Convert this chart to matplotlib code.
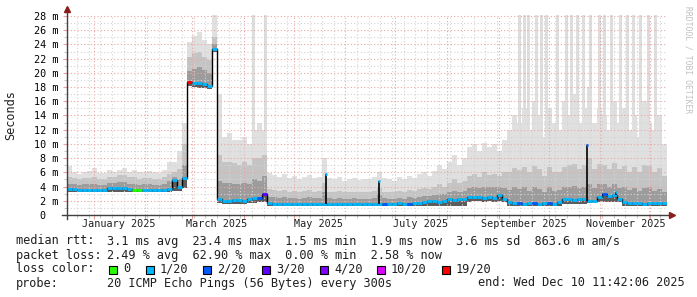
import datetime as dt
import matplotlib
matplotlib.use('Agg')
import matplotlib.pyplot as plt
import matplotlib.transforms as mtransforms
import numpy as np

# time axis: 120 samples of 3 days, starting Dec 16 2024
START = dt.datetime(2024, 12, 16)
SPAN_DAYS = 360
STEP_DAYS = 3

# median rtt per sample (ms)
median = [
    3.7, 3.6, 3.5, 3.5, 3.5, 3.5, 3.5, 3.5, 3.8, 3.8,
    3.8, 3.8, 3.7, 3.5, 3.5, 3.5, 3.5, 3.5, 3.5, 3.5,
    3.6, 4.9, 4.0, 5.2, 18.7, 18.6, 18.6, 18.5, 18.2, 23.4,
    2.3, 2.0, 2.0, 2.1, 2.1, 2.0, 2.3, 2.4, 2.4, 2.9,
    1.7, 1.6, 1.6, 1.6, 1.6, 1.6, 1.6, 1.6, 1.6, 1.6,
    1.6, 1.6, 1.6, 1.6, 1.6, 1.6, 1.6, 1.6, 1.6, 1.6,
    1.6, 1.6, 1.6, 1.6, 1.6, 1.6, 1.7, 1.6, 1.6, 1.7,
    1.7, 1.8, 1.9, 2.0, 1.8, 2.0, 2.2, 2.1, 2.3, 2.2,
    2.5, 2.6, 2.5, 2.4, 2.5, 2.4, 2.8, 2.3, 1.8, 1.7,
    1.7, 1.6, 1.7, 1.7, 1.6, 1.7, 1.7, 1.6, 1.8, 2.2,
    2.3, 2.1, 2.2, 2.3, 2.0, 2.0, 2.6, 3.0, 2.7, 2.8,
    2.3, 1.8, 1.7, 1.7, 1.7, 1.6, 1.7, 1.7, 1.7, 1.7,
]

# loss bucket per sample (index into LOSS_COLORS)
loss = [1] * 120
for i in (13, 14):
    loss[i] = 0
for i in (38, 63, 68, 90, 93, 96, 107):
    loss[i] = 2
loss[39] = 3
loss[24] = 6

# single short median peaks (day offset, median ms, loss bucket)
peak_day = [155.4, 187.2, 312.0, 329.4]
peak_val = [5.8, 4.8, 9.8, 3.3]
peak_loss = [1, 1, 2, 1]

# smoke: min, inner band, outer band, max (ms)
smoke_lo = (
    [3.2] * 20
    + [3.2, 3.4, 3.4, 3.8, 18.1, 18.0, 17.9, 17.9, 17.7, 23.0]
    + [1.7, 1.6, 1.6, 1.6, 1.6, 1.6, 1.7, 1.7, 1.8, 1.8]
    + [1.3] * 40
    + [1.8, 1.9, 1.9, 1.8, 1.9, 1.8, 2.0, 1.8]
    + [1.3] * 11
    + [1.6, 1.6, 1.6, 1.6, 1.6, 1.7, 1.8, 1.8, 1.8, 1.8, 1.8, 1.8]
    + [1.3] * 9
)
smoke_q1 = [
    4.4, 4.3, 4.2, 4.3, 4.3, 4.4, 4.2, 4.2, 4.5, 4.5,
    4.6, 4.6, 4.4, 4.3, 4.2, 4.3, 4.3, 4.2, 4.2, 4.4,
    4.8, 5.4, 5.0, 7.0, 20.3, 20.6, 20.8, 20.4, 20.0, 24.0,
    4.8, 4.5, 4.5, 4.3, 4.3, 4.5, 4.3, 5.0, 4.8, 5.5,
    2.6, 2.5, 2.4, 2.5, 2.4, 2.4, 2.3, 2.4, 2.5, 2.4,
    2.4, 3.2, 2.4, 2.3, 2.4, 2.3, 2.3, 2.4, 2.3, 2.3,
    2.3, 2.4, 3.0, 2.4, 2.3, 2.3, 2.4, 2.3, 2.5, 2.4,
    2.6, 2.7, 2.7, 2.8, 3.0, 2.9, 3.2, 3.4, 3.2, 3.4,
    3.8, 4.0, 3.8, 4.0, 3.9, 4.0, 4.0, 3.8, 3.5, 3.9,
    3.6, 4.0, 3.4, 4.0, 3.6, 3.3, 3.9, 3.4, 3.5, 3.9,
    4.0, 4.1, 3.8, 4.0, 4.4, 3.8, 4.3, 4.3, 4.0, 4.4,
    3.8, 3.9, 3.5, 3.8, 3.4, 3.8, 3.9, 3.4, 3.7, 3.2,
]
smoke_q2 = [
    5.4, 5.2, 5.0, 5.2, 5.2, 5.4, 5.1, 5.0, 5.4, 5.3,
    5.6, 5.6, 5.3, 5.3, 5.1, 5.2, 5.2, 5.1, 5.0, 5.3,
    5.8, 6.0, 6.5, 10.0, 22.3, 22.8, 23.0, 22.3, 21.8, 25.0,
    8.5, 7.5, 7.5, 7.3, 7.0, 7.5, 7.0, 8.0, 8.0, 8.5,
    3.6, 3.5, 3.4, 3.5, 3.3, 3.4, 3.3, 3.4, 3.5, 3.3,
    3.4, 4.5, 3.3, 3.2, 3.4, 3.2, 3.3, 3.3, 3.2, 3.3,
    3.3, 3.4, 3.8, 3.3, 3.3, 3.2, 3.4, 3.3, 3.5, 3.4,
    3.6, 3.8, 3.6, 3.9, 4.3, 4.0, 4.5, 5.0, 4.5, 4.8,
    5.5, 5.8, 5.4, 6.0, 5.6, 5.8, 5.5, 6.0, 6.0, 6.6,
    6.3, 6.8, 6.0, 6.9, 6.5, 5.5, 6.8, 6.0, 6.0, 6.8,
    7.0, 7.2, 6.5, 7.0, 8.0, 6.5, 7.2, 7.0, 6.5, 7.3,
    6.5, 6.9, 6.0, 6.8, 6.0, 7.0, 6.9, 6.0, 6.6, 5.5,
]
smoke_hi = [
    6.9, 6.0, 5.8, 6.1, 6.2, 6.6, 5.9, 5.9, 6.4, 6.0,
    6.4, 6.6, 6.1, 6.3, 6.0, 6.0, 6.2, 6.0, 5.9, 6.4,
    7.4, 7.5, 9.0, 13.0, 24.4, 25.2, 25.8, 24.6, 24.0, 28.2,
    17.0, 11.0, 11.5, 10.5, 10.5, 11.0, 10.0, 12.0, 13.0, 12.0,
    5.9, 5.6, 5.4, 5.8, 5.2, 5.5, 5.0, 5.3, 5.6, 5.2,
    5.4, 8.0, 5.2, 5.0, 5.4, 4.8, 5.0, 5.2, 4.9, 5.1,
    5.0, 5.3, 6.0, 5.2, 5.0, 4.8, 5.3, 5.0, 5.5, 5.2,
    5.8, 6.0, 5.5, 6.2, 7.0, 6.5, 7.5, 8.5, 7.0, 8.0,
    9.5, 10.0, 9.0, 10.2, 9.5, 10.0, 9.0, 10.5, 12.0, 14.0,
    13.0, 15.0, 12.0, 16.0, 14.0, 11.0, 15.0, 13.0, 12.0, 16.0,
    14.0, 17.0, 13.0, 15.0, 18.0, 13.0, 15.0, 14.0, 12.0, 16.0,
    13.0, 15.0, 12.0, 14.0, 11.0, 16.0, 13.0, 12.0, 14.0, 10.0,
]

# thin smoke columns that reach the top of the graph (day offset, max ms)
spike_day = [111.6, 118.8, 271.2, 274.2, 276.6, 281.4, 284.4, 287.4, 294.0,
             299.4, 302.4, 306.0, 309.6, 313.8, 319.2, 322.2, 326.4, 331.8,
             336.0, 339.6, 343.8, 348.6, 352.8]
spike_top = [28.2] * len(spike_day)

LOSS_COLORS = ['#26ff00', '#00b8ff', '#0059ff', '#5e00ff', '#7e00ff', '#dd00ff', '#ff0000']
LOSS_LABELS = ['0', '1/20', '2/20', '3/20', '4/20', '10/20', '19/20']
LEGEND_BOX_X = [109, 146, 203, 262, 320, 377, 442]

MONTH_LABELS = ['January 2025', 'March 2025', 'May 2025', 'July 2025',
                'September 2025', 'November 2025']

stats_rtt = '3.1 ms avg  23.4 ms max  1.5 ms min  1.9 ms now  3.6 ms sd  863.6 m am/s'
stats_loss = '2.49 % avg  62.90 % max  0.00 % min  2.58 % now'
probe_text = '20 ICMP Echo Pings (56 Bytes) every 300s'
end_text = 'end: Wed Dec 10 11:42:06 2025'

W, H = 697, 297
MONO = 'DejaVu Sans Mono'
YTOP = 28.14


def days_from_start(d):
    return (d - START).total_seconds() / 86400.0


def main():
    fig = plt.figure(figsize=(W / 100, H / 100), dpi=100, facecolor='white')
    ax = fig.add_axes([67 / W, (H - 215) / H, 600 / W, 200 / H])
    ax.set_xlim(0, SPAN_DAYS)
    ax.set_ylim(0, YTOP)
    for s in ax.spines.values():
        s.set_visible(False)

    # grid
    month_starts = [days_from_start(dt.datetime(2025, m, 1)) for m in range(1, 13)]
    weeks = np.arange(6, SPAN_DAYS, 7)
    ax.set_xticks(month_starts)
    ax.set_xticks(weeks, minor=True)
    ax.set_yticks(np.arange(0, 29, 2))
    ax.set_yticks(np.arange(1, 29, 2), minor=True)
    ax.set_xticklabels([])
    ax.set_yticklabels(['0  '] + ['%d m' % v for v in range(2, 29, 2)],
                       family=MONO, fontsize=7.3)
    ax.tick_params(which='major', length=3, width=0.8, color='#e9a0a0', pad=3)
    ax.tick_params(which='minor', length=2, width=0.8, color='#c8c8c8')
    ax.grid(which='minor', color='#d4d4d4', ls=(0, (1, 2)), lw=0.8)
    ax.grid(which='major', color='#eba5a5', ls=(0, (1, 2)), lw=0.8)
    ax.set_axisbelow(False)

    # smoke
    x_left = np.arange(len(median)) * STEP_DAYS
    lo = np.array(smoke_lo)
    ax.bar(spike_day, np.array(spike_top) - 2.0, bottom=2.0, width=1.8,
           color='#dedede', lw=0, zorder=2)
    ax.bar(x_left, np.array(smoke_hi) - lo, bottom=lo, width=STEP_DAYS,
           align='edge', color='#e0e0e0', lw=0, zorder=2)
    ax.bar(x_left, np.array(smoke_q2) - lo, bottom=lo, width=STEP_DAYS,
           align='edge', color='#c4c4c4', lw=0, zorder=2)
    ax.bar(x_left, np.array(smoke_q1) - lo, bottom=lo, width=STEP_DAYS,
           align='edge', color='#9c9c9c', lw=0, zorder=2)
    med = np.array(median)
    ax.bar(x_left, med - lo, bottom=lo, width=STEP_DAYS,
           align='edge', color='#5c5c5c', lw=0, zorder=2)

    # median line
    edges = np.append(x_left, x_left[-1] + STEP_DAYS)
    ax.step(edges, np.append(med, med[-1]), where='post', color='black', lw=1, zorder=3)
    ax.hlines(med, x_left, x_left + STEP_DAYS, colors=[LOSS_COLORS[k] for k in loss],
              lw=2.0, zorder=4)

    # short median peaks
    base = med[(np.array(peak_day) // STEP_DAYS).astype(int)]
    ax.vlines(peak_day, base, peak_val, color='black', lw=1.2, zorder=5)
    ax.hlines(peak_val, np.array(peak_day) - 0.5, np.array(peak_day) + 0.7,
              colors=[LOSS_COLORS[k] for k in peak_loss], lw=2.0, zorder=6)

    # axes with arrows
    ax.plot([-3, SPAN_DAYS + 2], [0, 0], color='#404040', lw=1, clip_on=False, zorder=5)
    ax.plot([0, 0], [-0.6, YTOP + 0.5], color='#404040', lw=1, clip_on=False, zorder=5)
    ax.plot([SPAN_DAYS + 3], [0], marker='>', ms=4, color='#8b1c1c', clip_on=False, zorder=6)
    ax.plot([0], [YTOP + 0.9], marker='^', ms=4, color='#8b1c1c', clip_on=False, zorder=6)

    # month labels
    trans = mtransforms.blended_transform_factory(ax.transData, fig.transFigure)
    for k, lab in enumerate(MONTH_LABELS):
        x = days_from_start(dt.datetime(2025, 1 + 2 * k, 1)) + 15
        ax.text(x, 1 - 224 / H, lab, transform=trans, ha='center', va='center',
                family=MONO, fontsize=7.3, color='#202020')

    fig.text(11 / W, 1 - 115 / H, 'Seconds', rotation=90, ha='center', va='center',
             family=MONO, fontsize=8.6, color='#202020')
    fig.text(688 / W, 1 - 60 / H, 'RRDTOOL / TOBI OETIKER', rotation=270,
             ha='center', va='center', family=MONO, fontsize=5.8, color='#c0c0c0')

    # legend block
    def line(x, y, s, **kw):
        fig.text(x / W, 1 - y / H, s, ha='left', va='center', family=MONO,
                 fontsize=8.6, color='#202020', **kw)

    line(16, 241, 'median rtt:')
    line(107, 241, stats_rtt)
    line(16, 255, 'packet loss:')
    line(107, 255, stats_loss)
    line(16, 269, 'loss color:')
    for bx, col, lab in zip(LEGEND_BOX_X, LOSS_COLORS, LOSS_LABELS):
        fig.patches.append(plt.Rectangle((bx / W, 1 - 273.5 / H), 8 / W, 8 / H,
                                         transform=fig.transFigure, facecolor=col,
                                         edgecolor='black', lw=0.8))
        line(bx + 14, 269, lab)
    line(16, 283, 'probe:')
    line(107, 283, probe_text)
    line(478, 283, end_text)

    fig.savefig('out.png', dpi=100, facecolor='white')


if __name__ == '__main__':
    main()
